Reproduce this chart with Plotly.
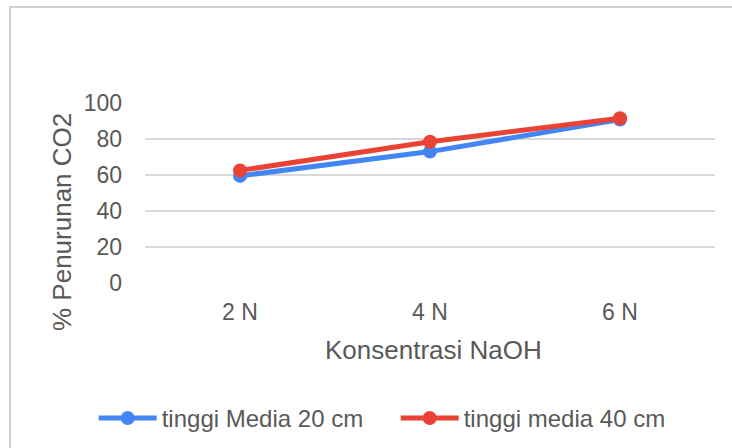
import plotly.graph_objects as go

# Data: % CO2 reduction by NaOH concentration for two media heights
konsentrasi = ["2 N", "4 N", "6 N"]
media_20cm = [59.5, 73.0, 90.8]
media_40cm = [62.5, 78.5, 91.5]

y_ticks = [0, 20, 40, 60, 80, 100]

GRAY_TEXT = "#595959"
FONT = "Liberation Sans, Arial, sans-serif"

fig = go.Figure()
fig.add_trace(go.Scatter(
    x=konsentrasi, y=media_20cm, name="tinggi Media 20 cm",
    mode="lines+markers",
    line=dict(color="#4285F4", width=5),
    marker=dict(color="#4285F4", size=14),
))
fig.add_trace(go.Scatter(
    x=konsentrasi, y=media_40cm, name="tinggi media 40 cm",
    mode="lines+markers",
    line=dict(color="#EA4335", width=5),
    marker=dict(color="#EA4335", size=14),
))

fig.update_layout(
    width=732, height=448,
    margin=dict(l=145, r=17, t=103, b=165, autoexpand=False),
    paper_bgcolor="white", plot_bgcolor="white",
    font=dict(family=FONT, color=GRAY_TEXT, size=23),
    showlegend=True,
    legend=dict(
        orientation="h", x=-0.09, xanchor="left", y=-0.752, yanchor="middle",
        font=dict(size=24, color=GRAY_TEXT), bgcolor="rgba(0,0,0,0)",
        traceorder="normal", itemwidth=58, entrywidth=229,
    ),
    xaxis=dict(
        type="category", range=[-0.5, 2.5],
        showgrid=False, zeroline=False, showline=False,
        ticks="", ticklabelstandoff=13,
        tickfont=dict(size=23, color=GRAY_TEXT),
        fixedrange=True,
    ),
    yaxis=dict(
        range=[0, 100], tickvals=y_ticks,
        showgrid=True, gridcolor="#D9D9D9", gridwidth=2,
        zeroline=False, showline=False,
        ticks="", ticklabelstandoff=22,
        tickfont=dict(size=23, color=GRAY_TEXT),
        fixedrange=True,
    ),
    annotations=[
        dict(text="% Penurunan CO2", xref="paper", yref="paper",
             x=-0.1456, y=0.339, textangle=-90, showarrow=False,
             xanchor="center", yanchor="middle",
             font=dict(size=26, color=GRAY_TEXT)),
        dict(text="Konsentrasi NaOH", xref="paper", yref="paper",
             x=0.506, y=-0.372, showarrow=False,
             xanchor="center", yanchor="middle",
             font=dict(size=26, color=GRAY_TEXT)),
    ],
    shapes=[
        dict(type="rect", xref="paper", yref="paper",
             x0=-0.2368, x1=1.05, y0=-1.0, y1=1.533,
             line=dict(color="#D0D0D0", width=2), layer="below"),
    ],
)

fig.write_html("out.html")
